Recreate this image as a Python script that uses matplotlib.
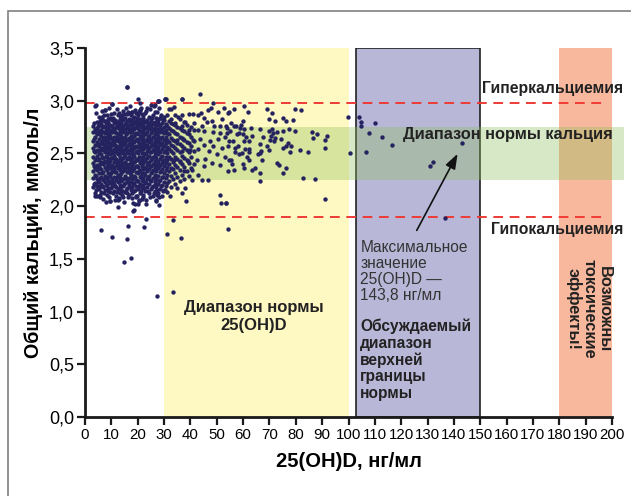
import matplotlib
matplotlib.use("Agg")
import matplotlib.pyplot as plt
from matplotlib.patches import Rectangle
import numpy as np

# --------------------------------------------------------
# Data
# --------------------------------------------------------

X_TICKS = list(range(0, 201, 10))
Y_TICKS = [0.0, 0.5, 1.0, 1.5, 2.0, 2.5, 3.0, 3.5]
Y_TICK_LABELS = ["0,0", "0,5", "1,0", "1,5", "2,0", "2,5", "3,0", "3,5"]

HYPER_LEVEL = 2.98
HYPO_LEVEL = 1.90
CA_NORM = (2.25, 2.75)
VITD_NORM = (30, 100)
VITD_DEBATE = (103, 150)
VITD_TOXIC = (180, 200)

# dense cluster, column by column: 25(OH)D value -> calcium values
core_x = [3.2, 3.9, 4.6, 5.3, 6.0, 6.8, 7.5, 8.2, 8.9, 9.6, 10.3, 11.0,
          11.7, 12.4, 13.1, 13.8, 14.5, 15.2, 15.9, 16.6, 17.3, 18.0, 18.7,
          19.4, 20.1, 20.8, 21.5, 22.2, 22.9, 23.6, 24.3, 25.0, 25.7, 26.4,
          27.1, 27.8, 28.5, 29.2, 29.9, 30.6, 31.3, 32.0, 32.7, 33.4, 34.1,
          35.0, 35.9, 36.8, 37.7, 38.6, 39.5, 40.4, 41.3]
core_y = [
    [2.18, 2.27, 2.33, 2.41, 2.47, 2.55, 2.62, 2.70, 2.76],
    [2.12, 2.22, 2.30, 2.36, 2.44, 2.51, 2.58, 2.66, 2.73, 2.95],
    [2.10, 2.19, 2.26, 2.34, 2.39, 2.48, 2.53, 2.61, 2.68, 2.74, 2.80],
    [2.16, 2.24, 2.31, 2.37, 2.45, 2.50, 2.57, 2.64, 2.71, 2.77, 2.85],
    [2.13, 2.21, 2.28, 2.35, 2.42, 2.49, 2.55, 2.60, 2.67, 2.72, 2.79, 2.84],
    [2.07, 2.18, 2.25, 2.32, 2.40, 2.46, 2.53, 2.59, 2.65, 2.70, 2.76, 2.82],
    [2.15, 2.23, 2.29, 2.37, 2.43, 2.51, 2.57, 2.63, 2.69, 2.75, 2.81, 2.91],
    [2.11, 2.20, 2.27, 2.34, 2.41, 2.47, 2.54, 2.61, 2.66, 2.73, 2.78, 2.86],
    [2.17, 2.24, 2.31, 2.38, 2.45, 2.50, 2.56, 2.62, 2.68, 2.74, 2.80],
    [2.05, 2.13, 2.22, 2.29, 2.36, 2.43, 2.49, 2.55, 2.60, 2.67, 2.72, 2.77, 2.84],
    [2.19, 2.26, 2.33, 2.39, 2.46, 2.52, 2.58, 2.64, 2.70, 2.76, 2.82, 2.97],
    [2.14, 2.21, 2.28, 2.35, 2.42, 2.48, 2.54, 2.61, 2.66, 2.72, 2.79, 2.88],
    [2.10, 2.18, 2.25, 2.32, 2.38, 2.45, 2.51, 2.57, 2.63, 2.69, 2.75, 2.81],
    [2.06, 2.16, 2.23, 2.30, 2.36, 2.43, 2.49, 2.56, 2.62, 2.68, 2.74, 2.80, 2.86],
    [2.12, 2.20, 2.27, 2.34, 2.40, 2.47, 2.53, 2.59, 2.65, 2.71, 2.77, 2.83],
    [2.15, 2.24, 2.31, 2.37, 2.44, 2.50, 2.56, 2.61, 2.67, 2.73, 2.79, 2.85],
    [2.09, 2.19, 2.26, 2.33, 2.39, 2.46, 2.52, 2.58, 2.64, 2.70, 2.76, 2.82, 2.90],
    [2.13, 2.22, 2.29, 2.35, 2.42, 2.48, 2.54, 2.60, 2.66, 2.72, 2.78, 2.84],
    [2.17, 2.25, 2.32, 2.38, 2.45, 2.51, 2.57, 2.63, 2.69, 2.75, 2.81, 2.87, 3.13],
    [2.11, 2.20, 2.27, 2.34, 2.40, 2.47, 2.53, 2.59, 2.65, 2.71, 2.77, 2.83],
    [2.15, 2.23, 2.30, 2.36, 2.43, 2.49, 2.55, 2.61, 2.67, 2.73, 2.79, 2.86],
    [2.08, 2.18, 2.26, 2.33, 2.39, 2.46, 2.52, 2.58, 2.64, 2.70, 2.76, 2.82, 2.89],
    [2.14, 2.22, 2.29, 2.36, 2.42, 2.48, 2.55, 2.61, 2.67, 2.73, 2.79, 2.85],
    [2.10, 2.19, 2.25, 2.32, 2.38, 2.45, 2.51, 2.57, 2.63, 2.69, 2.75, 2.81, 2.88],
    [2.16, 2.24, 2.31, 2.37, 2.44, 2.50, 2.56, 2.62, 2.68, 2.74, 2.80, 2.86, 3.02],
    [2.12, 2.21, 2.28, 2.34, 2.41, 2.47, 2.53, 2.59, 2.65, 2.71, 2.77, 2.83, 2.91],
    [2.17, 2.25, 2.31, 2.38, 2.44, 2.50, 2.57, 2.63, 2.69, 2.75, 2.81, 2.87],
    [2.09, 2.20, 2.27, 2.35, 2.41, 2.47, 2.54, 2.60, 2.66, 2.72, 2.78, 2.84],
    [2.14, 2.23, 2.30, 2.36, 2.43, 2.49, 2.56, 2.62, 2.68, 2.74, 2.80, 2.88],
    [2.18, 2.26, 2.33, 2.39, 2.46, 2.52, 2.58, 2.64, 2.70, 2.76, 2.82, 2.93],
    [2.12, 2.21, 2.29, 2.35, 2.42, 2.48, 2.55, 2.61, 2.67, 2.73, 2.79, 2.85],
    [2.16, 2.24, 2.31, 2.38, 2.44, 2.51, 2.57, 2.63, 2.69, 2.75, 2.81, 2.96],
    [2.10, 2.19, 2.27, 2.34, 2.40, 2.47, 2.53, 2.59, 2.66, 2.72, 2.78, 2.86],
    [2.14, 2.23, 2.30, 2.37, 2.43, 2.50, 2.56, 2.62, 2.68, 2.74, 2.80, 2.96],
    [2.06, 2.18, 2.26, 2.33, 2.39, 2.46, 2.52, 2.58, 2.64, 2.71, 2.77, 2.84],
    [2.12, 2.21, 2.29, 2.36, 2.42, 2.49, 2.55, 2.61, 2.67, 2.73, 2.79, 3.00],
    [2.16, 2.25, 2.32, 2.39, 2.45, 2.51, 2.58, 2.64, 2.70, 2.76, 2.84],
    [2.10, 2.20, 2.28, 2.35, 2.41, 2.48, 2.54, 2.60, 2.66, 2.72, 2.79],
    [2.15, 2.23, 2.31, 2.38, 2.44, 2.51, 2.57, 2.63, 2.69, 2.75, 2.82],
    [2.19, 2.27, 2.34, 2.41, 2.47, 2.53, 2.60, 2.66, 2.72, 2.78, 3.02],
    [2.13, 2.22, 2.30, 2.37, 2.44, 2.50, 2.56, 2.63, 2.69, 2.76, 2.86],
    [2.24, 2.33, 2.40, 2.47, 2.54, 2.61, 2.68, 2.74, 2.81],
    [2.18, 2.29, 2.36, 2.45, 2.52, 2.58, 2.65, 2.72, 2.79, 2.92],
    [2.26, 2.35, 2.42, 2.50, 2.57, 2.63, 2.71, 2.78],
    [2.21, 2.31, 2.39, 2.47, 2.55, 2.62, 2.69, 2.77, 2.86],
    [2.28, 2.37, 2.45, 2.53, 2.60, 2.68, 2.75],
    [2.24, 2.34, 2.43, 2.51, 2.59, 2.66, 2.74, 2.83],
    [2.30, 2.40, 2.48, 2.57, 2.65, 2.72, 3.02],
    [2.26, 2.37, 2.46, 2.55, 2.63, 2.71, 2.80],
    [2.33, 2.44, 2.53, 2.61, 2.69, 2.77],
    [2.29, 2.41, 2.51, 2.60, 2.68],
    [2.36, 2.47, 2.57, 2.66, 2.75],
    [2.40, 2.52, 2.62, 2.72],
]

# second, interleaved set of columns in the dense cluster
fill_x = [3.55, 4.25, 4.95, 5.65, 6.4, 7.15, 7.85, 8.55, 9.25, 9.95, 10.65,
          11.35, 12.05, 12.75, 13.45, 14.15, 14.85, 15.55, 16.25, 16.95,
          17.65, 18.35, 19.05, 19.75, 20.45, 21.15, 21.85, 22.55, 23.25,
          23.95, 24.65, 25.35, 26.05, 26.75, 27.45, 28.15, 28.85, 29.55]
fill_y = [
    [2.21, 2.38, 2.52, 2.64, 2.79],
    [2.15, 2.29, 2.45, 2.58, 2.70, 2.88],
    [2.23, 2.36, 2.44, 2.59, 2.76],
    [2.09, 2.27, 2.40, 2.53, 2.68, 2.81],
    [2.19, 2.31, 2.47, 2.62, 2.75, 2.90],
    [2.12, 2.26, 2.42, 2.55, 2.66, 2.86],
    [2.04, 2.20, 2.35, 2.48, 2.60, 2.72, 2.79],
    [2.14, 2.28, 2.43, 2.57, 2.69, 2.83],
    [2.09, 2.24, 2.40, 2.53, 2.65, 2.77, 2.93],
    [2.17, 2.31, 2.46, 2.58, 2.70, 2.87],
    [2.12, 2.23, 2.37, 2.50, 2.62, 2.74, 2.84],
    [2.06, 2.19, 2.32, 2.45, 2.58, 2.70, 2.82],
    [2.13, 2.28, 2.41, 2.54, 2.66, 2.78, 2.92],
    [2.08, 2.24, 2.38, 2.50, 2.63, 2.75, 2.88],
    [2.17, 2.30, 2.44, 2.57, 2.69, 2.80],
    [2.11, 2.26, 2.41, 2.53, 2.65, 2.76, 2.86],
    [2.04, 2.21, 2.36, 2.49, 2.62, 2.73, 2.87],
    [2.15, 2.27, 2.40, 2.55, 2.68, 2.79, 2.93],
    [2.09, 2.23, 2.37, 2.50, 2.63, 2.74, 2.88],
    [2.18, 2.31, 2.45, 2.58, 2.70, 2.81, 2.95],
    [2.12, 2.26, 2.40, 2.53, 2.66, 2.77, 2.89],
    [2.03, 2.21, 2.35, 2.49, 2.62, 2.74, 2.84],
    [2.15, 2.28, 2.43, 2.56, 2.68, 2.80, 2.91],
    [2.10, 2.24, 2.38, 2.52, 2.64, 2.77, 2.84],
    [2.06, 2.19, 2.33, 2.47, 2.60, 2.72, 2.89],
    [2.14, 2.29, 2.42, 2.55, 2.67, 2.79, 2.93],
    [2.11, 2.24, 2.37, 2.50, 2.63, 2.76, 2.86],
    [2.17, 2.31, 2.45, 2.58, 2.69, 2.81],
    [2.06, 2.22, 2.36, 2.49, 2.62, 2.74, 2.90],
    [2.14, 2.28, 2.41, 2.55, 2.67, 2.79],
    [2.09, 2.25, 2.38, 2.51, 2.64, 2.77, 2.92],
    [2.18, 2.32, 2.46, 2.59, 2.71, 2.84],
    [2.12, 2.27, 2.40, 2.54, 2.66, 2.79, 2.95],
    [2.20, 2.34, 2.48, 2.61, 2.74, 2.89],
    [2.15, 2.29, 2.43, 2.56, 2.69, 2.81],
    [2.09, 2.24, 2.38, 2.52, 2.65, 2.77, 2.93],
    [2.19, 2.33, 2.47, 2.60, 2.73, 2.86],
    [2.14, 2.28, 2.43, 2.57, 2.70, 2.82],
]

# sparser points around the cluster
outer_x = [
    # below the cluster
    12.7, 18.5, 23.2, 22.5, 16.2, 5.9, 10.1, 16.1, 17.6, 14.7, 9.5, 19.0,
    20.3, 23.2, 21.6, 12.8, 3.8, 5.8, 4.4, 5.7, 13.9, 15.8, 19.2, 27.3,
    33.3, 36.5, 31.1, 33.3, 18.4, 20.5,
    # above the cluster
    15.8, 4.2, 10.1, 7.6, 16.2, 6.3, 13.7, 27.8, 30.4, 20.9, 17.1, 20.9,
    27.2, 25.1, 28.5,
    # 30 - 55
    43.8, 30.5, 36.7, 48.4, 28.1, 33.8, 31.9, 48.0, 46.6, 52.7, 50.3, 54.6,
    39.5, 44.1, 43.0, 37.0, 35.4, 32.8, 29.8, 27.6, 41.1, 48.1, 52.0, 46.3,
    45.0, 41.3, 44.3, 49.1, 51.3, 53.8, 38.0, 34.3, 36.7, 39.6, 42.8, 45.3,
    48.7, 51.3, 53.2, 50.6, 47.5, 43.7, 40.9, 37.3, 34.8, 45.0, 48.7, 51.9,
    54.4, 42.8, 40.0, 37.0, 47.2, 50.0, 53.2, 45.7, 42.4, 39.2, 36.1, 33.6,
    48.1, 51.3, 45.0, 40.5, 37.4, 43.0, 46.8, 44.3, 40.5, 38.0, 36.7, 34.8,
    32.3, 30.4, 38.2, 51.3, 51.5, 53.5, 27.2, 28.2, 27.0,
    # 53 - 95
    56.6, 60.4, 54.3, 61.9, 69.0, 71.0, 69.7, 72.1, 75.1, 76.1, 79.8, 82.1,
    79.0, 55.5, 59.9, 59.1, 56.4, 57.4, 53.6, 58.9, 60.5, 62.9, 66.5, 69.8,
    70.8, 71.4, 72.8, 75.0, 77.5, 79.8, 86.1, 88.1, 86.7, 91.8, 91.0, 55.0,
    54.0, 57.5, 58.5, 59.8, 61.0, 63.3, 67.4, 70.5, 72.2, 74.2, 70.3, 71.6,
    54.5, 56.2, 60.2, 62.2, 66.4, 68.9, 69.7, 76.9, 76.4, 75.1, 78.1, 77.9,
    81.6, 84.7, 91.0, 58.0, 57.0, 60.8, 62.1, 62.3, 66.7, 66.5, 65.5, 57.0,
    58.3, 59.5, 61.6, 62.4, 67.3, 54.5, 55.5, 55.7, 59.8, 60.2, 64.7, 63.5,
    54.3, 56.6, 72.8, 73.6, 76.1, 75.2, 66.4, 66.5, 82.7, 87.4, 91.0, 53.6,
    54.3,
    # above 95
    99.8, 104.1, 104.7, 104.7, 110.1, 107.9, 112.7, 116.6, 106.7, 100.6,
    132.0, 130.9, 143.2, 136.8,
]
outer_y = [
    1.99, 1.96, 1.88, 1.80, 1.81, 1.77, 1.71, 1.69, 1.51, 1.47, 2.05, 2.02,
    2.02, 2.02, 2.07, 2.07, 2.10, 2.11, 2.19, 2.19, 2.14, 2.12, 2.09, 1.15,
    1.19, 1.70, 1.74, 1.87, 1.95, 2.05,
    3.13, 2.96, 2.97, 2.91, 2.89, 2.85, 2.85, 3.00, 3.02, 2.98, 2.88, 2.91,
    2.89, 2.84, 2.84,
    3.06, 3.02, 3.02, 2.98, 3.00, 2.94, 2.92, 2.93, 2.91, 2.93, 2.89, 2.89,
    2.87, 2.88, 2.86, 2.86, 2.85, 2.83, 2.85, 2.82, 2.87, 2.81, 2.83, 2.80,
    2.84, 2.79, 2.76, 2.76, 2.76, 2.74, 2.80, 2.79, 2.76, 2.72, 2.72, 2.71,
    2.70, 2.69, 2.66, 2.64, 2.62, 2.64, 2.63, 2.64, 2.63, 2.58, 2.57, 2.55,
    2.57, 2.54, 2.53, 2.52, 2.52, 2.49, 2.47, 2.45, 2.44, 2.43, 2.42, 2.44,
    2.41, 2.39, 2.38, 2.34, 2.33, 2.30, 2.25, 2.25, 2.25, 2.17, 2.12, 2.17,
    2.10, 2.15, 2.05, 2.11, 2.03, 2.03, 2.11, 2.01, 2.05,
    2.92, 2.95, 2.88, 2.89, 2.92, 2.88, 2.83, 2.81, 2.84, 2.81, 2.92, 2.91,
    2.82, 2.79, 2.81, 2.77, 2.76, 2.76, 2.76, 2.74, 2.73, 2.74, 2.73, 2.71,
    2.73, 2.69, 2.70, 2.71, 2.73, 2.71, 2.70, 2.68, 2.65, 2.67, 2.63, 2.71,
    2.69, 2.68, 2.69, 2.68, 2.66, 2.67, 2.66, 2.67, 2.65, 2.64, 2.63, 2.62,
    2.62, 2.62, 2.62, 2.62, 2.59, 2.57, 2.53, 2.60, 2.57, 2.55, 2.57, 2.51,
    2.53, 2.51, 2.55, 2.57, 2.55, 2.54, 2.54, 2.51, 2.52, 2.50, 2.49, 2.51,
    2.49, 2.50, 2.47, 2.44, 2.44, 2.44, 2.44, 2.40, 2.40, 2.36, 2.36, 2.34,
    2.33, 2.34, 2.41, 2.39, 2.36, 2.31, 2.31, 2.24, 2.27, 2.26, 2.07, 2.03,
    1.78,
    2.85, 2.85, 2.80, 2.76, 2.79, 2.69, 2.66, 2.58, 2.51, 2.50,
    2.42, 2.38, 2.60, 1.89,
]

# annotation arrow: tail (text) -> head (max value point)
ARROW_TAIL = (125.9, 1.77)
ARROW_HEAD = (141.9, 2.52)


def main():

    columns_x = core_x + fill_x
    columns_y = core_y + fill_y

    vit_d = np.concatenate(
        [np.full(len(ys), x) for x, ys in zip(columns_x, columns_y)] + [np.array(outer_x)]
    )
    calcium = np.concatenate([np.array(ys) for ys in columns_y] + [np.array(outer_y)])

    plt.rcParams["font.family"] = ["Liberation Sans", "DejaVu Sans"]

    fig = plt.figure(figsize=(6.31, 4.96), dpi=100)
    ax = fig.add_axes([0.1347, 0.1593, 0.8352, 0.7439])

    # --------------------------------------------------------
    # Background bands
    # --------------------------------------------------------

    ax.axvspan(*VITD_NORM, color="#fef8c3", lw=0, zorder=0)
    ax.axvspan(*VITD_DEBATE, facecolor="#b9b7d7", edgecolor="#222222", lw=1.2, zorder=0)
    ax.axvspan(*VITD_TOXIC, color="#f8b89d", lw=0, zorder=0)

    ax.add_patch(Rectangle((0, CA_NORM[0]), 204.6, CA_NORM[1] - CA_NORM[0],
                           facecolor="#8cbf59", alpha=0.35, lw=0,
                           zorder=1, clip_on=False))

    for level in (HYPER_LEVEL, HYPO_LEVEL):
        ax.plot([0, 198], [level, level], color="#ee3b35", lw=1.4,
                linestyle=(0, (5, 3.4)), zorder=2)

    # --------------------------------------------------------
    # Scatter
    # --------------------------------------------------------

    ax.scatter(vit_d, calcium, s=10, color="#25235f", linewidths=0, zorder=3)

    # --------------------------------------------------------
    # Axes
    # --------------------------------------------------------

    ax.set_xlim(0, 200)
    ax.set_ylim(0, 3.5)
    ax.set_xticks(X_TICKS)
    ax.set_xticklabels([str(t) for t in X_TICKS], fontsize=10.8)
    ax.set_yticks(Y_TICKS)
    ax.set_yticklabels(Y_TICK_LABELS, fontsize=13)
    ax.tick_params(direction="out", length=6, width=1.6, color="#1a1a1a", pad=2)
    for side in ("top", "right"):
        ax.spines[side].set_visible(False)
    for side in ("left", "bottom"):
        ax.spines[side].set_linewidth(2)
        ax.spines[side].set_color("#1a1a1a")

    ax.set_xlabel("25(OH)D, нг/мл", fontsize=14.5, fontweight="bold", labelpad=7)
    ax.set_ylabel("Общий кальций, ммоль/л", fontsize=14.2, fontweight="bold", labelpad=4)

    # --------------------------------------------------------
    # Labels
    # --------------------------------------------------------

    bold = dict(fontweight="bold", color="#222222", zorder=5, clip_on=False)

    ax.text(204.3, 3.12, "Гиперкальциемия", ha="right", va="center", fontsize=11.3, **bold)
    ax.text(204.3, 1.78, "Гипокальциемия", ha="right", va="center", fontsize=11.3, **bold)
    ax.text(160.3, 2.68, "Диапазон нормы кальция", ha="center", va="center",
            fontsize=11.8, **bold)
    ax.text(64, 0.95, "Диапазон нормы\n25(OH)D", ha="center", va="center",
            fontsize=12, linespacing=1.25, **bold)
    ax.text(104.5, 0.93, "Обсуждаемый\nдиапазон\nверхней\nграницы\nнормы",
            ha="left", va="top", fontsize=11.2, linespacing=1.12, **bold)
    ax.text(191.2, 1.50, "Возможны\nтоксические\nэффекты!", ha="center", va="top",
            rotation=-90, fontsize=11.8, linespacing=1.0, **bold)

    ax.text(104.5, 1.68, "Максимальное\nзначение\n25(OH)D —\n143,8 нг/мл",
            ha="left", va="top", fontsize=11.2, color="#333333",
            linespacing=1.1, zorder=5)

    ax.annotate("", xy=ARROW_HEAD, xytext=ARROW_TAIL,
                arrowprops=dict(arrowstyle="-|>,head_length=0.9,head_width=0.32",
                                color="#111111", lw=1.2, shrinkA=0, shrinkB=2),
                zorder=5)

    # outer frame (only left and top edges visible)
    fig.patches.append(Rectangle((8 / 631, -0.2), 1.2, 1.2 - 11 / 496,
                                 transform=fig.transFigure, fill=False,
                                 edgecolor="#808080", lw=1.2))

    fig.savefig("out.png", dpi=100)


if __name__ == "__main__":
    main()
